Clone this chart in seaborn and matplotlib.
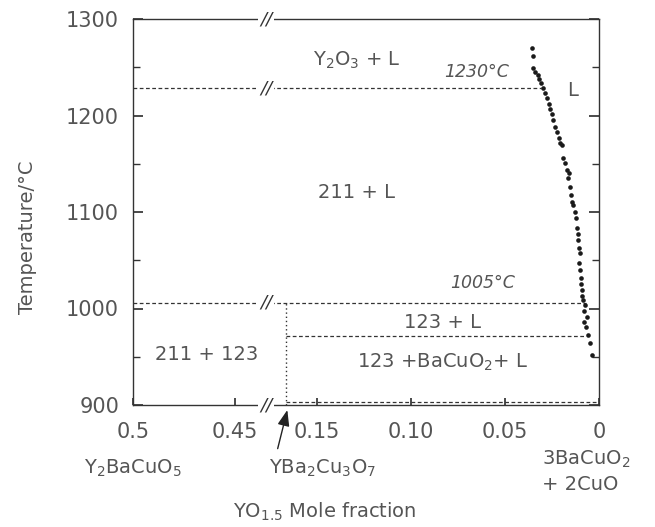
import numpy as np
import matplotlib
matplotlib.use("Agg")
import matplotlib.pyplot as plt
from matplotlib.ticker import FixedLocator, MultipleLocator, NullLocator
import seaborn as sns
import pandas as pd

# ---------------- data ----------------
liq_x = [0.0355, 0.0350, 0.0350, 0.0339, 0.0323, 0.0307, 0.0297, 0.0286, 0.0276,
         0.0265, 0.0249, 0.0244, 0.0233, 0.0223, 0.0212, 0.0196, 0.0191, 0.0180,
         0.0170, 0.0164, 0.0154, 0.0143, 0.0138, 0.0122, 0.0117, 0.0111, 0.0106,
         0.0101, 0.0106, 0.0095, 0.0090, 0.0085, 0.0074, 0.0064, 0.0069, 0.0058,
         0.0048, 0.0037, 0.0130, 0.0100, 0.0095, 0.0080, 0.0318, 0.0258, 0.0205,
         0.0160, 0.0148, 0.0112, 0.0088, 0.0078]
liq_T = [1270, 1262, 1249, 1245, 1242, 1234, 1229, 1223, 1218,
         1212, 1202, 1195, 1188, 1183, 1177, 1169, 1156, 1151,
         1144, 1135, 1126, 1110, 1107, 1094, 1083, 1071, 1063,
         1058, 1047, 1032, 1019, 1009, 1004, 991, 981, 973,
         964, 952, 1100, 1040, 1025, 997, 1238, 1207, 1172,
         1140, 1118, 1077, 1013, 986]

T_Y2O3_L = 1228          # 1230 °C peritectic
T_211_L = 1006           # 1005 °C peritectic
T_123_L_low = 972
T_eutectic = 903
x_123 = 1.0 / 6.0        # YBa2Cu3O7
x_end_1228 = 0.031
x_end_1006 = 0.007
x_end_972 = 0.008

xticks = [0.5, 0.45, 0.15, 0.10, 0.05, 0.0]
xticklabels = ["0.5", "0.45", "0.15", "0.10", "0.05", "0"]
yticks = [900, 1000, 1100, 1200, 1300]

# ---------------- broken x scale ----------------
L_SCALE, R_SCALE, W = 2040.0, 1880.0, 466.0
XB1, XB2 = 0.436, 0.171
F1 = (0.5 - XB1) * L_SCALE
F2 = W - XB2 * R_SCALE


def g(x):
    """distance (px) from the left spine, for a mole fraction x"""
    x = np.asarray(x, float)
    return np.where(x >= XB1, (0.5 - x) * L_SCALE,
                    np.where(x <= XB2, W - x * R_SCALE,
                             F1 + (XB1 - x) / (XB1 - XB2) * (F2 - F1)))


def ginv(f):
    f = np.asarray(f, float)
    return np.where(f <= F1, 0.5 - f / L_SCALE,
                    np.where(f >= F2, (W - f) / R_SCALE,
                             XB1 - (f - F1) / (F2 - F1) * (XB1 - XB2)))


def fwd(x):
    return -g(x)


def inv(f):
    return ginv(-np.asarray(f, float))


def pos(px):
    return float(ginv(px))


sns.set_theme(style="ticks")
plt.rcParams["font.family"] = ["DejaVu Sans"]
plt.rcParams["mathtext.fontset"] = "dejavusans"

TXT = "#555555"
LN = "#333333"

fig = plt.figure(figsize=(6.55, 5.27), dpi=100)
ax = fig.add_axes([133 / 655, 122 / 527, 466 / 655, 386 / 527])
ax.set_xscale("function", functions=(fwd, inv))
ax.set_xlim(0.5, 0.0)
ax.set_ylim(900, 1300)

for s in ax.spines.values():
    s.set_color(LN)
    s.set_linewidth(1.0)

dash = (0, (3, 2))
# phase boundaries
ax.hlines(T_Y2O3_L, 0.5, x_end_1228, colors=LN, linestyles=dash, lw=0.9)
ax.hlines(T_211_L, 0.5, x_end_1006, colors=LN, linestyles=dash, lw=0.9)
ax.hlines(T_123_L_low, x_123, x_end_972, colors=LN, linestyles=dash, lw=0.9)
ax.hlines(T_eutectic, x_123, 0.0, colors=LN, linestyles=dash, lw=0.9)
ax.vlines(x_123, 900, T_211_L, colors=LN, linestyles=(0, (1, 2)), lw=1.0)

# liquidus data
df = pd.DataFrame({"x": liq_x, "T": liq_T})
sns.scatterplot(data=df, x="x", y="T", ax=ax, color="#1a1a1a", s=11,
                linewidth=0, marker="o", zorder=4, legend=False)

# ticks
ax.xaxis.set_major_locator(FixedLocator(xticks))
ax.set_xticklabels(xticklabels)
ax.xaxis.set_minor_locator(NullLocator())
ax.yaxis.set_major_locator(FixedLocator(yticks))
ax.yaxis.set_minor_locator(MultipleLocator(50))
ax.tick_params(axis="both", which="both", direction="in", color=LN,
               labelcolor=TXT, labelsize=15, right=True, top=False)
ax.tick_params(axis="y", which="major", length=7, pad=10)
ax.tick_params(axis="y", which="minor", length=5)
ax.tick_params(axis="x", which="major", length=5, pad=12)
ax.set_xlabel("")
ax.set_ylabel("Temperature/°C", fontsize=14, color=TXT)
ax.yaxis.set_label_coords(-0.205, 0.435)

# break marks
xbrk = pos(133.0)
for T in (1300, T_Y2O3_L, T_211_L, 900):
    ax.text(xbrk, T, "//", ha="center", va="center", fontsize=13, color=LN,
            fontstyle="italic", zorder=6, clip_on=False,
            bbox=dict(facecolor="white", edgecolor="none", pad=1.2))

# phase labels
ax.text(0.129, 1257, "Y$_2$O$_3$ + L", ha="center", va="center", fontsize=14, color=TXT)
ax.text(0.065, 1245, "1230°C", ha="center", va="center", fontsize=12.5,
        color=TXT, fontstyle="italic")
ax.text(0.0138, 1226, "L", ha="center", va="center", fontsize=14, color=TXT)
ax.text(0.129, 1120, "211 + L", ha="center", va="center", fontsize=14, color=TXT)
ax.text(0.062, 1026, "1005°C", ha="center", va="center", fontsize=12.5,
        color=TXT, fontstyle="italic")
ax.text(0.083, 986, "123 + L", ha="center", va="center", fontsize=14, color=TXT)
ax.text(0.083, 944, "123 +BaCuO$_2$+ L", ha="center", va="center", fontsize=14, color=TXT)
ax.text(0.4637, 952, "211 + 123", ha="center", va="center", fontsize=14, color=TXT)

# composition labels below the axis
xt = ax.get_xaxis_transform()
ax.text(0.5, -0.165, "Y$_2$BaCuO$_5$", transform=xt,
        ha="center", va="center", fontsize=14, color=TXT)
ax.text(pos(190.0), -0.165, "YBa$_2$Cu$_3$O$_7$", transform=xt,
        ha="center", va="center", fontsize=14, color=TXT)
ax.text(pos(409.0), -0.142, "3BaCuO$_2$", transform=xt,
        ha="left", va="center", fontsize=14, color=TXT)
ax.text(pos(409.0), -0.207, "+ 2CuO", transform=xt,
        ha="left", va="center", fontsize=14, color=TXT)
ax.text(pos(192.0), -0.277, "YO$_{1.5}$ Mole fraction", transform=xt,
        ha="center", va="center", fontsize=14, color=TXT)

# arrow to 123 composition
ax.annotate("", xy=(pos(155.0), -0.006), xytext=(pos(144.0), -0.12),
            xycoords=xt, textcoords=xt,
            arrowprops=dict(arrowstyle="-|>,head_length=0.8,head_width=0.3",
                            color="#222222", lw=1.0), annotation_clip=False)

fig.savefig("out.png", dpi=100, facecolor="white")
